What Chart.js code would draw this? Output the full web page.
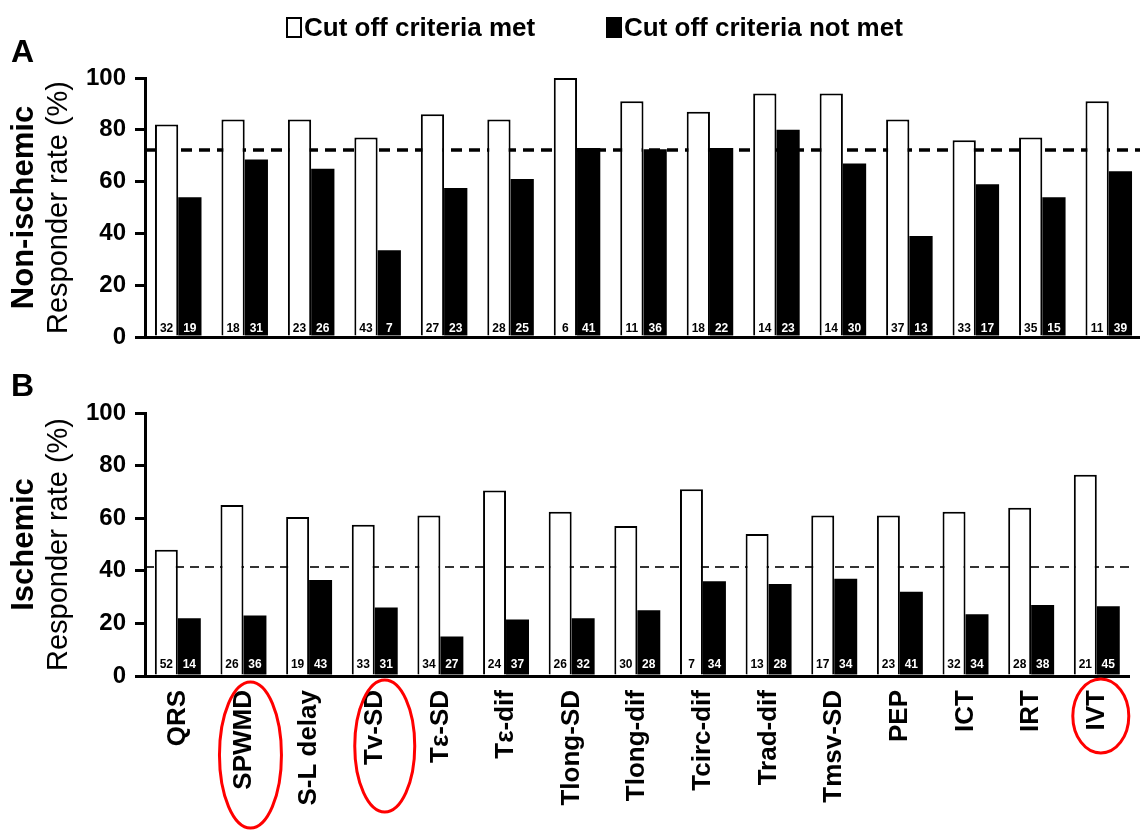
<!DOCTYPE html>
<html>
<head>
<meta charset="utf-8">
<script src="https://cdn.jsdelivr.net/npm/chart.js@4/dist/chart.umd.min.js"></script>
<style>
  html, body { margin: 0; padding: 0; background: #fff; overflow: hidden; width: 1140px; height: 830px; }
  #wrap { position: relative; width: 1140px; height: 830px; }
  #panelA { position: absolute; left: 0; top: 0; }
  #panelB { position: absolute; left: 0; top: 350px; }
</style>
</head>
<body>
<div id="wrap">
  <canvas id="panelA" width="1142" height="370"></canvas>
  <canvas id="panelB" width="1142" height="480"></canvas>
</div>
<script>
const FONT = '"Liberation Sans", Arial, Helvetica, sans-serif';

const categories = ['QRS', 'SPWMD', 'S-L delay', 'Tv-SD', 'Tε-SD', 'Tε-dif', 'Tlong-SD', 'Tlong-dif',
                    'Tcirc-dif', 'Trad-dif', 'Tmsv-SD', 'PEP', 'ICT', 'IRT', 'IVT'];
const seriesNames = ['Cut off criteria met', 'Cut off criteria not met'];
const yTickValues = [0, 20, 40, 60, 80, 100];

// A: non-ischemic, responder rate (%) and patient counts
const nonIschMet     = [82, 84, 84, 77, 86, 84, 100, 91, 87, 94, 94, 84, 76, 77, 91];
const nonIschNotMet  = [54, 68.5, 65, 33.5, 57.5, 61, 73, 72.5, 73, 80, 67, 39, 59, 54, 64];
const nonIschNMet    = [32, 18, 23, 43, 27, 28, 6, 11, 18, 14, 14, 37, 33, 35, 11];
const nonIschNNotMet = [19, 31, 26, 7, 23, 25, 41, 36, 22, 23, 30, 13, 17, 15, 39];
const nonIschCutoff  = 72.2;

// B: ischemic
const ischMet     = [48, 65, 60.5, 57.5, 61, 70.5, 62.5, 57, 71, 54, 61, 61, 62.5, 64, 76.5];
const ischNotMet  = [22, 23, 36.5, 26, 15, 21.5, 22, 25, 36, 35, 37, 32, 23.5, 27, 26.5];
const ischNMet    = [52, 26, 19, 33, 34, 24, 26, 30, 7, 13, 17, 23, 32, 28, 21];
const ischNNotMet = [14, 36, 43, 31, 27, 37, 32, 28, 34, 28, 34, 41, 34, 38, 45];
const ischCutoff  = 41.4;

const circledCategories = ['SPWMD', 'Tv-SD', 'IVT'];

// red rings round some x labels (offsets from the tick / axis)
const ringStyle = {
  'SPWMD': { dx: 7, dy: 79, rx: 31, ry: 73 },
  'Tv-SD': { dx: 10, dy: 70, rx: 30, ry: 66 },
  'IVT':   { dx: 4, dy: 40, rx: 28, ry: 37 }
};

const panelDecor = {
  id: 'panelDecor',
  beforeDatasetsDraw(chart, args, opts) {
    const { ctx, chartArea } = chart;
    const y = chart.scales.y.getPixelForValue(opts.cutoff);
    ctx.save();
    ctx.setLineDash(opts.dash);
    ctx.lineWidth = opts.dashWidth;
    ctx.strokeStyle = opts.dashColor;
    ctx.beginPath();
    ctx.moveTo(chartArea.left, y);
    ctx.lineTo(chartArea.right, y);
    ctx.stroke();
    ctx.restore();
  },
  afterDatasetsDraw(chart, args, opts) {
    const { ctx, chartArea } = chart;
    ctx.save();
    ctx.font = 'bold 12px ' + FONT;
    ctx.textAlign = 'center';
    ctx.textBaseline = 'alphabetic';
    chart.data.datasets.forEach((ds, di) => {
      const meta = chart.getDatasetMeta(di);
      meta.data.forEach((bar, i) => {
        ctx.fillStyle = di === 0 ? '#000' : '#fff';
        ctx.fillText(String(opts.counts[di][i]), bar.x, chartArea.bottom - opts.countLift);
      });
    });
    ctx.restore();
  },
  afterDraw(chart, args, opts) {
    const { ctx, chartArea } = chart;
    ctx.save();
    ctx.fillStyle = '#000';
    ctx.textBaseline = 'alphabetic';

    // panel letter
    ctx.textAlign = 'left';
    ctx.font = 'bold 32px ' + FONT;
    ctx.fillText(opts.letter, 11, opts.letterY);

    // two-line y title
    const cy = (chartArea.top + chartArea.bottom) / 2;
    ctx.textAlign = 'center';
    ctx.save();
    ctx.translate(33, cy);
    ctx.rotate(-Math.PI / 2);
    ctx.font = 'bold 31px ' + FONT;
    ctx.fillText(opts.title, 0, 0);
    ctx.restore();
    ctx.save();
    ctx.translate(67, cy);
    ctx.rotate(-Math.PI / 2);
    ctx.font = '29px ' + FONT;
    ctx.fillText('Responder rate (%)', 0, 0);
    ctx.restore();

    // legend
    if (opts.legendX) {
      ctx.textAlign = 'left';
      ctx.font = 'bold 26px ' + FONT;
      chart.data.datasets.forEach((ds, di) => {
        const x = opts.legendX[di];
        ctx.fillStyle = ds.backgroundColor;
        ctx.fillRect(x, 18, 14, 19);
        ctx.lineWidth = 2;
        ctx.strokeStyle = '#000';
        ctx.strokeRect(x, 18, 14, 19);
        ctx.fillStyle = '#000';
        ctx.fillText(ds.label, x + 17, 36);
      });
    }

    // red rings
    if (opts.rings) {
      ctx.strokeStyle = '#f00';
      ctx.lineWidth = 3;
      circledCategories.forEach(cat => {
        const r = ringStyle[cat];
        const x = chart.scales.x.getPixelForValue(categories.indexOf(cat)) + r.dx;
        ctx.beginPath();
        ctx.ellipse(x, chartArea.bottom + r.dy, r.rx, r.ry, 0, 0, Math.PI * 2);
        ctx.stroke();
      });
    }
    ctx.restore();
  }
};

function makePanel(id, p) {
  return new Chart(document.getElementById(id), {
    type: 'bar',
    data: {
      labels: categories,
      datasets: [
        { label: seriesNames[0], data: p.met, backgroundColor: '#fff', borderColor: '#000', borderWidth: 2 },
        { label: seriesNames[1], data: p.notMet, backgroundColor: '#000', borderColor: '#000', borderWidth: 0 }
      ]
    },
    options: {
      responsive: false,
      animation: false,
      layout: { padding: { top: p.top, left: 0, right: 0, bottom: 0 } },
      datasets: { bar: { categoryPercentage: 0.7, barPercentage: 1.0 } },
      scales: {
        x: {
          grid: { display: false, drawTicks: false },
          border: { display: true, color: '#000', width: 3, z: 1 },
          ticks: {
            display: p.showLabels, autoSkip: false, minRotation: 90, maxRotation: 90,
            padding: 14, color: '#000', font: { family: FONT, size: 26, weight: 'bold' }
          },
          afterFit: s => { s.height = p.xHeight; }
        },
        y: {
          min: 0,
          max: 100,
          afterBuildTicks: s => { s.ticks = yTickValues.map(v => ({ value: v })); },
          afterFit: s => { s.width = 145; },
          grid: { drawOnChartArea: false, drawTicks: true, tickLength: 10, lineWidth: 3, color: '#000' },
          border: { display: true, color: '#000', width: 3, z: 1 },
          ticks: { padding: 9, color: '#000', font: { family: FONT, size: 24, weight: 'bold' } }
        }
      },
      plugins: {
        legend: { display: false },
        tooltip: { enabled: false },
        panelDecor: p.decor
      }
    },
    plugins: [panelDecor]
  });
}

makePanel('panelA', {
  met: nonIschMet, notMet: nonIschNotMet, top: 78, xHeight: 33, showLabels: false,
  decor: {
    cutoff: nonIschCutoff, dash: [11, 7], dashWidth: 3.5, dashColor: '#000',
    counts: [nonIschNMet, nonIschNNotMet], countLift: 5,
    letter: 'A', letterY: 62, title: 'Non-ischemic', legendX: [287, 607]
  }
});

makePanel('panelB', {
  met: ischMet, notMet: ischNotMet, top: 63, xHeight: 154, showLabels: true,
  decor: {
    cutoff: ischCutoff, dash: [9, 6], dashWidth: 2, dashColor: '#333',
    counts: [ischNMet, ischNNotMet], countLift: 8,
    letter: 'B', letterY: 46, title: 'Ischemic', rings: true
  }
});
</script>
</body>
</html>
